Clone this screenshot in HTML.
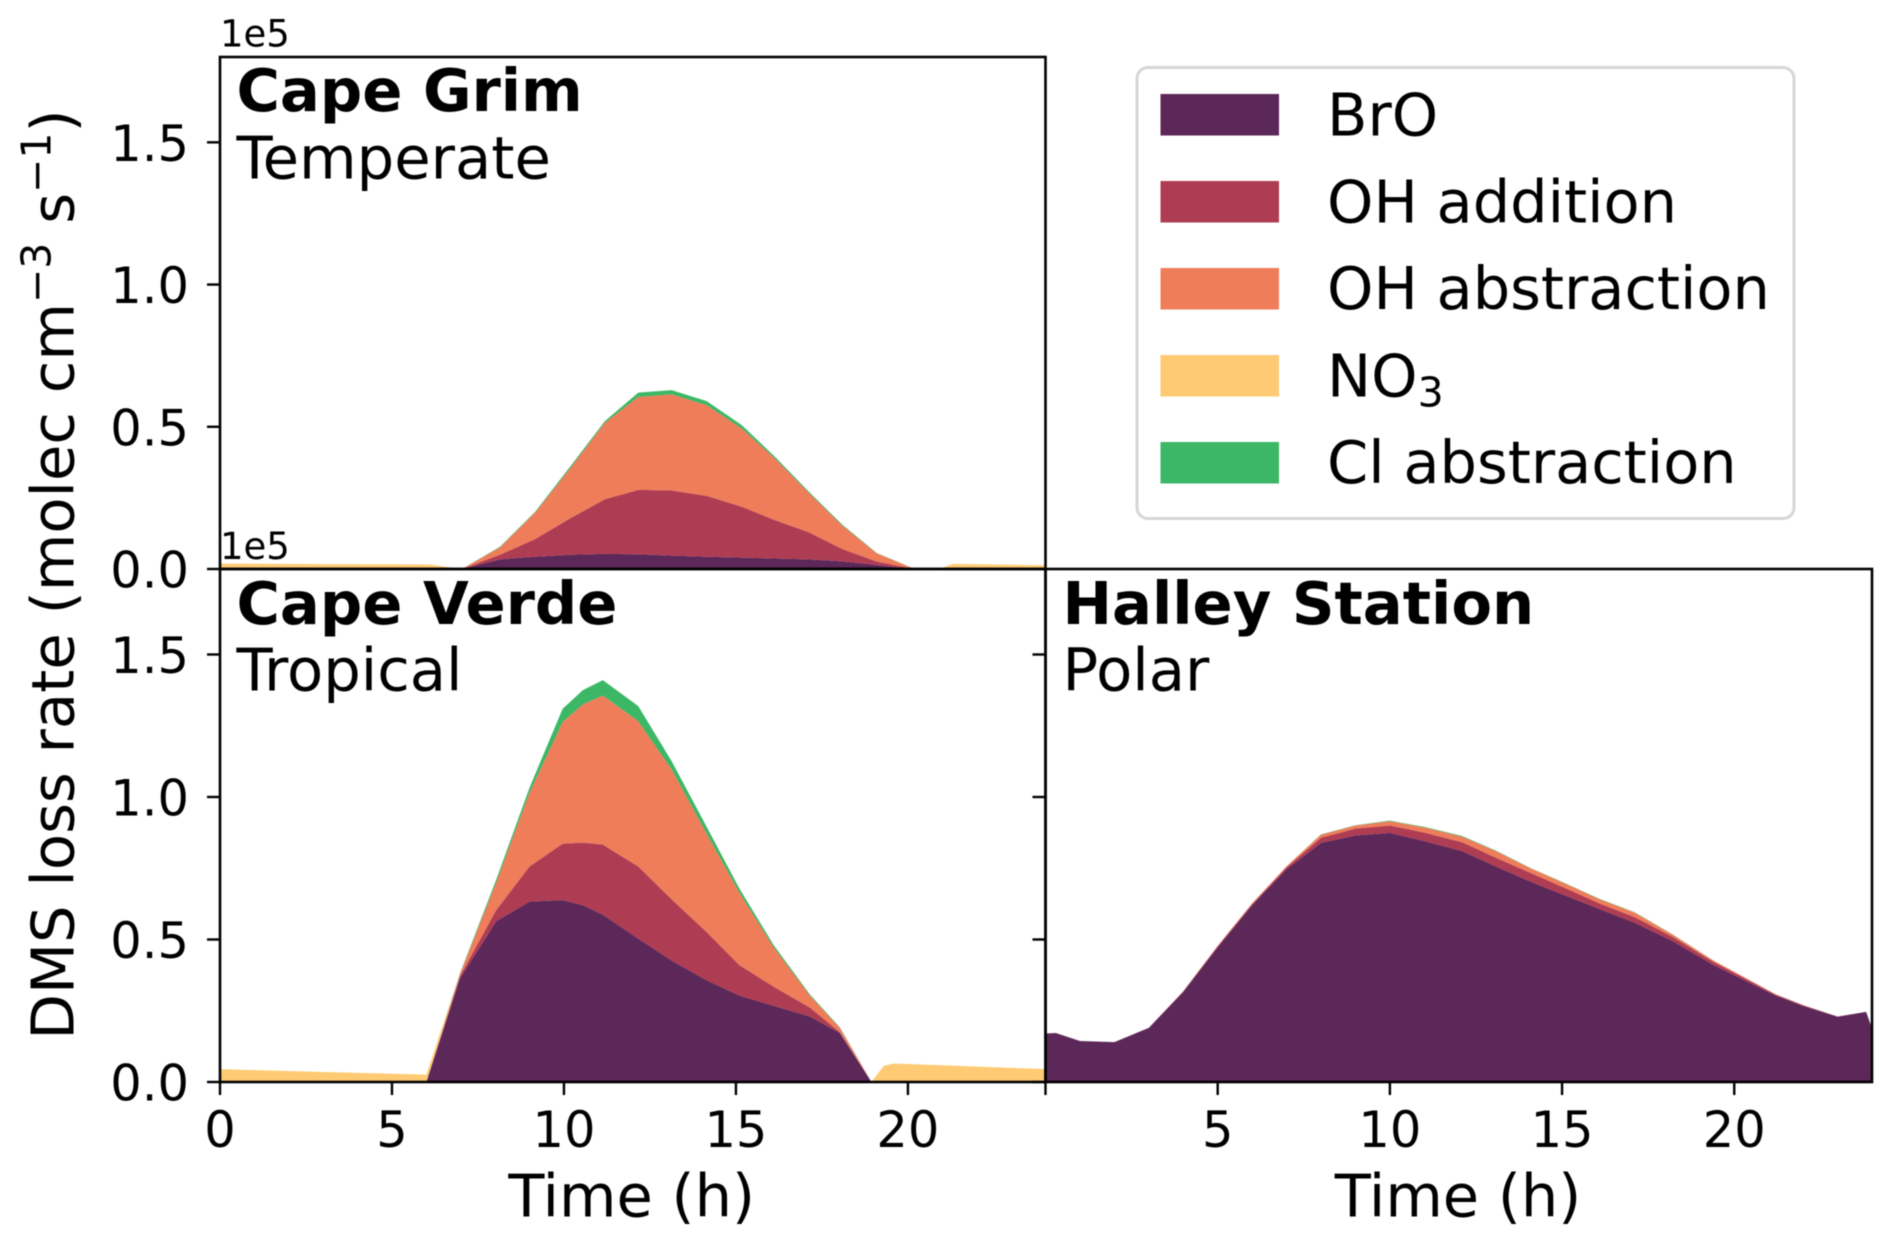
<!DOCTYPE html>
<html lang="en">
<head>
<meta charset="utf-8">
<title>DMS loss rate by site</title>
<style>
  html, body { margin: 0; padding: 0; background: #fff; }
  #chart { display: block; width: 1892px; height: 1247px; filter: blur(0.6px); }
  text { font-family: "DejaVu Sans", "Liberation Sans", sans-serif; fill: #000; }
</style>
</head>
<body>
<svg id="chart" xmlns="http://www.w3.org/2000/svg" width="1892" height="1247" viewBox="0 0 1892 1247">
  <g id="areas"></g>
  <g id="axes"></g>

  <text transform="translate(73.5,574.5) rotate(-90)" text-anchor="middle" font-size="59.2">DMS loss rate (molec cm<tspan font-size="41" dy="-23">−3</tspan><tspan dy="23"> s</tspan><tspan font-size="41" dy="-23">−1</tspan><tspan dy="23">)</tspan></text>
  <text x="631.7" y="1216.5" text-anchor="middle" font-size="59">Time (h)</text>
  <text x="1458" y="1216.5" text-anchor="middle" font-size="59">Time (h)</text>

  <text x="220" y="46.5" font-size="37">1e5</text>
  <text x="220" y="559" font-size="37">1e5</text>

  <text x="236.5" y="111.2" font-size="59.2" font-weight="bold">Cape Grim</text>
  <text x="236.5" y="178.5" font-size="59.2">Temperate</text>
  <text x="236.5" y="624" font-size="59.2" font-weight="bold">Cape Verde</text>
  <text x="236.5" y="690.5" font-size="59.2">Tropical</text>
  <text x="1062.5" y="624" font-size="59.2" font-weight="bold">Halley Station</text>
  <text x="1062.5" y="690.5" font-size="59.2">Polar</text>

  <g>
    <rect x="1137" y="67.5" width="657" height="451" rx="11" ry="11" fill="#fff" stroke="#d6d6d6" stroke-width="3"/>
    <rect x="1160.5" y="94" width="118.5" height="41.5" fill="#5c2759"/>
    <text x="1327" y="135.7" font-size="59">BrO</text>
    <rect x="1160.5" y="181" width="118.5" height="41.5" fill="#ae3c52"/>
    <text x="1327" y="222.7" font-size="59">OH addition</text>
    <rect x="1160.5" y="268" width="118.5" height="41.5" fill="#ef7d5a"/>
    <text x="1327" y="309.2" font-size="59">OH abstraction</text>
    <rect x="1160.5" y="355" width="118.5" height="41.5" fill="#fecb74"/>
    <text x="1327" y="396.5" font-size="59">NO<tspan font-size="41" dy="10">3</tspan></text>
    <rect x="1160.5" y="442" width="118.5" height="41.5" fill="#3bb765"/>
    <text x="1327" y="483" font-size="59">Cl abstraction</text>
  </g>
</svg>
<script>
// Values are in units of 1e5 molec cm-3 s-1.
const yTickValues = [0, 0.5, 1, 1.5];
const yTickLabels = ['0.0', '0.5', '1.0', '1.5'];
const xTickValuesLeft = [0, 5, 10, 15, 20];
const xTickLabelsLeft = ['0', '5', '10', '15', '20'];
const xTickValuesRight = [0, 5, 10, 15, 20];
const xTickLabelsRight = ['', '5', '10', '15', '20'];
const seriesNames = ['bro', 'oh-addition', 'oh-abstraction', 'no3', 'cl-abstraction'];
const seriesColors = ['#5c2759', '#ae3c52', '#ef7d5a', '#fecb74', '#3bb765'];

const grimHours = [0, 3, 6.1, 7.03, 8.14, 9.16, 10.18, 11.19, 12.16, 13.13, 14.15, 15.17, 16.13, 17.1, 18.1, 19.1, 20.2, 20.9, 21.3, 24];
const grimBrO = [0, 0, 0, 0, .034, .043, .05, .053, .052, .047, .043, .04, .037, .034, .027, .014, 0, 0, 0, 0];
const grimOHAdd = [0, 0, 0, 0, .016, .062, .128, .192, .226, .229, .214, .179, .135, .096, .043, .012, 0, 0, 0, 0];
const grimOHAbs = [0, 0, 0, 0, .026, .093, .176, .269, .327, .338, .319, .275, .217, .14, .082, .029, 0, 0, 0, 0];
const grimNO3 = [.019, .017, .016, 0, 0, 0, 0, 0, 0, 0, 0, 0, 0, 0, 0, 0, 0, 0, .018, .013];
const grimCl = [0, 0, 0, 0, .002, .003, .006, .006, .015, .015, .014, .012, .006, .004, .003, .001, 0, 0, 0, 0];

const verdeHours = [0, 3, 6, 6.98, 8.03, 9, 9.96, 10.55, 11.13, 12.16, 13.13, 14.15, 15.1, 16.1, 17.15, 18.02, 18.94, 19.3, 19.6, 24];
const verdeBrO = [0, 0, 0, .364, .564, .633, .638, .62, .587, .503, .426, .357, .303, .267, .23, .172, 0, 0, 0, 0];
const verdeOHAdd = [0, 0, 0, .008, .039, .123, .198, .22, .246, .253, .215, .169, .107, .067, .031, .003, 0, 0, 0, 0];
const verdeOHAbs = [0, 0, 0, .008, .097, .26, .427, .485, .523, .51, .456, .345, .254, .138, .042, .015, 0, 0, 0, 0];
const verdeNO3 = [.045, .035, .026, 0, 0, 0, 0, 0, 0, 0, 0, 0, 0, 0, 0, 0, 0, .057, .065, .045];
const verdeCl = [0, 0, 0, .002, .01, .017, .046, .05, .054, .053, .029, .024, .015, .008, .004, .002, 0, 0, 0, 0];

const halleyHours = [0, .3, 1, 2, 3, 4, 5, 6, 7, 8, 9, 10, 11, 12.1, 13.08, 14.1, 15.06, 16.1, 17.1, 18.2, 19.4, 20.35, 21.2, 22, 23, 23.83, 24];
const halleyBrO = [.17, .172, .144, .14, .19, .316, .473, .62, .747, .839, .865, .874, .845, .81, .756, .702, .656, .606, .559, .495, .41, .354, .303, .267, .229, .246, .188];
const halleyOHAdd = [0, 0, 0, 0, 0, .002, .003, .004, .006, .018, .024, .026, .03, .031, .031, .031, .026, .02, .02, .015, .011, .007, .004, .002, .001, 0, 0];
const halleyOHAbs = [0, 0, 0, 0, 0, .001, .002, .003, .004, .011, .011, .015, .018, .02, .023, .016, .016, .015, .016, .008, .005, .003, .001, .001, 0, 0, 0];
const halleyNO3 = [0, 0, 0, 0, 0, 0, 0, 0, 0, 0, 0, 0, 0, 0, 0, 0, 0, 0, 0, 0, 0, 0, 0, 0, 0, 0, 0];
const halleyCl = [0, 0, 0, 0, 0, 0, 0, 0, 0, .001, .001, .002, .002, .002, .002, .001, .001, .001, .001, .001, 0, 0, 0, 0, 0, 0, 0];

const SVG_NS = 'http://www.w3.org/2000/svg';
const areasLayer = document.getElementById('areas');
const axesLayer = document.getElementById('axes');

const panels = [
  { id: 'cape-grim', left: 220, right: 1045.5, top: 57, bottom: 569, hours: grimHours,
    series: [grimBrO, grimOHAdd, grimOHAbs, grimNO3, grimCl], yLabels: true,
    xValues: [], xLabels: [] },
  { id: 'cape-verde', left: 220, right: 1045.5, top: 569, bottom: 1082, hours: verdeHours,
    series: [verdeBrO, verdeOHAdd, verdeOHAbs, verdeNO3, verdeCl], yLabels: true,
    xValues: xTickValuesLeft, xLabels: xTickLabelsLeft },
  { id: 'halley-station', left: 1045.5, right: 1872, top: 569, bottom: 1082, hours: halleyHours,
    series: [halleyBrO, halleyOHAdd, halleyOHAbs, halleyNO3, halleyCl], yLabels: false,
    xValues: xTickValuesRight, xLabels: xTickLabelsRight }
];

function xScale(panel, hour) {
  return panel.left + (hour / 24) * (panel.right - panel.left);
}
function yScale(panel, value) {
  return panel.bottom - (value / 1.8) * (panel.bottom - panel.top);
}
function drawLine(parent, x1, y1, x2, y2, width) {
  const line = document.createElementNS(SVG_NS, 'line');
  line.setAttribute('x1', x1);
  line.setAttribute('y1', y1);
  line.setAttribute('x2', x2);
  line.setAttribute('y2', y2);
  line.setAttribute('stroke', '#000');
  line.setAttribute('stroke-width', width);
  parent.appendChild(line);
  return line;
}

panels.forEach(function (panel) {
  // Stacked filled layers
  const baseline = panel.hours.map(function () { return 0; });
  panel.series.forEach(function (values, s) {
    const topEdge = values.map(function (v, i) { return baseline[i] + v; });
    let d = '';
    panel.hours.forEach(function (h, i) {
      d += (i === 0 ? 'M' : 'L') + xScale(panel, h).toFixed(2) + ' ' + yScale(panel, topEdge[i]).toFixed(2);
    });
    for (let i = panel.hours.length - 1; i >= 0; i--) {
      d += 'L' + xScale(panel, panel.hours[i]).toFixed(2) + ' ' + yScale(panel, baseline[i]).toFixed(2);
    }
    d += 'Z';
    const area = document.createElementNS(SVG_NS, 'path');
    
    
    area.setAttribute('d', d);
    area.setAttribute('fill', seriesColors[s]);
    areasLayer.appendChild(area);
    topEdge.forEach(function (v, i) { baseline[i] = v; });
  });

  // Frame
  const frame = document.createElementNS(SVG_NS, 'rect');
  
  
  frame.setAttribute('x', panel.left);
  frame.setAttribute('y', panel.top);
  frame.setAttribute('width', panel.right - panel.left);
  frame.setAttribute('height', panel.bottom - panel.top);
  frame.setAttribute('fill', 'none');
  frame.setAttribute('stroke', '#000');
  frame.setAttribute('stroke-width', '2.6');
  axesLayer.appendChild(frame);

  // Y ticks
  yTickValues.forEach(function (value, i) {
    const y = yScale(panel, value);
    const tick = drawLine(axesLayer, panel.left - 13, y, panel.left, y, 2.4);
    
    
    if (panel.yLabels) {
      const label = document.createElementNS(SVG_NS, 'text');
      
      
      label.setAttribute('x', panel.left - 31);
      label.setAttribute('y', y + 18.5);
      label.setAttribute('text-anchor', 'end');
      label.setAttribute('font-size', '49.5');
      label.textContent = yTickLabels[i];
      axesLayer.appendChild(label);
    }
  });

  // X ticks
  panel.xValues.forEach(function (value, i) {
    const x = xScale(panel, value);
    const tick = drawLine(axesLayer, x, panel.bottom, x, panel.bottom + 13, 2.4);
    
    
    if (panel.xLabels[i]) {
      const label = document.createElementNS(SVG_NS, 'text');
      
      
      label.setAttribute('x', x);
      label.setAttribute('y', panel.bottom + 65);
      label.setAttribute('text-anchor', 'middle');
      label.setAttribute('font-size', '49.5');
      label.textContent = panel.xLabels[i];
      axesLayer.appendChild(label);
    }
  });
});
</script>
</body>
</html>
